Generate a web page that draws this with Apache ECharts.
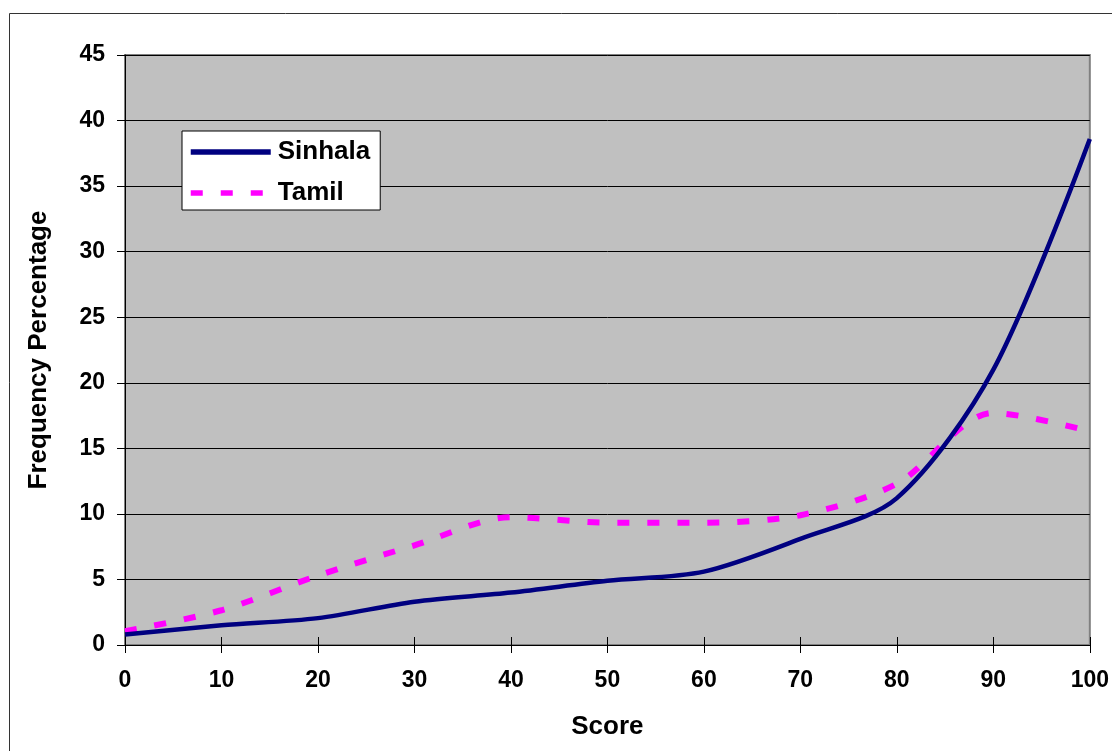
<!DOCTYPE html>
<html>
<head>
<meta charset="utf-8">
<script src="https://cdn.jsdelivr.net/npm/echarts@6/dist/echarts.min.js"></script>
<style>
  html, body { margin: 0; padding: 0; background: #fff; }
  #chart { width: 1112px; height: 751px; }
</style>
</head>
<body>
<div id="chart"></div>
<script>
// Score categories (x) and frequency percentages per language group
const scores = [0, 10, 20, 30, 40, 50, 60, 70, 80, 90, 100];
const sinhala = [0.8, 1.5, 2.05, 3.3, 4.0, 4.9, 5.6, 8.1, 11.2, 21.0, 38.6];
const tamil = [1.05, 2.65, 5.3, 7.6, 9.75, 9.33, 9.33, 9.9, 12.3, 17.7, 16.3];
const yTicks = [0, 5, 10, 15, 20, 25, 30, 35, 40, 45];

const FONT = '"Liberation Sans", Arial, sans-serif';
const tickFont = { fontFamily: FONT, fontWeight: 'bold', fontSize: 23, color: '#000' };
const titleFont = { fontFamily: FONT, fontWeight: 'bold', fontSize: 26, color: '#000' };

const chart = echarts.init(document.getElementById('chart'), null, { renderer: 'canvas' });

const pairs = (xs, ys) => xs.map((x, i) => [x, ys[i]]);

const baseX = {
  type: 'value',
  min: 0,
  max: 100,
  interval: 10,
  splitLine: { show: false },
};

chart.setOption({
  animation: false,
  backgroundColor: '#ffffff',
  graphic: [{
    type: 'rect',
    shape: { x: 9.5, y: 13.5, width: 1200, height: 800 },
    style: { fill: 'none', stroke: '#333333', lineWidth: 1 },
    silent: true,
    z: -10
  }],
  grid: {
    left: 125, right: 22, top: 55, bottom: 106,
    show: true,
    backgroundColor: '#C0C0C0',
    borderColor: '#808080',
    borderWidth: 2
  },
  legend: {
    left: 182, top: 131,
    orient: 'vertical',
    backgroundColor: '#ffffff',
    borderColor: '#000000',
    borderWidth: 1,
    padding: [6, 10, 2, 6],
    itemWidth: 80,
    itemHeight: 30,
    itemGap: 11,
    itemStyle: { color: 'transparent', borderWidth: 0 },
    lineStyle: { width: 5.5 },
    textStyle: Object.assign({}, titleFont, { lineHeight: 30, padding: [0, 0, 0, 2] }),
    data: ['Sinhala', 'Tamil']
  },
  xAxis: [
    Object.assign({}, baseX, {
      name: 'Score',
      nameLocation: 'middle',
      nameGap: 69,
      nameTextStyle: titleFont,
      axisLine: { show: true, lineStyle: { color: '#000', width: 1 } },
      axisTick: { show: true, inside: false, length: 8, lineStyle: { color: '#000' } },
      axisLabel: Object.assign({ margin: 24 }, tickFont)
    }),
    Object.assign({}, baseX, {
      position: 'bottom',
      axisLine: { show: false },
      axisTick: { show: true, inside: true, length: 8, lineStyle: { color: '#000' } },
      axisLabel: { show: false }
    })
  ],
  yAxis: {
    type: 'value',
    min: yTicks[0],
    max: yTicks[yTicks.length - 1],
    interval: 5,
    name: 'Frequency Percentage',
    nameLocation: 'middle',
    nameGap: 73,
    nameTextStyle: titleFont,
    axisLine: { show: true, lineStyle: { color: '#000', width: 1 } },
    axisTick: { show: true, length: 8, lineStyle: { color: '#000' } },
    axisLabel: Object.assign({ margin: 20 }, tickFont),
    splitLine: { show: true, lineStyle: { color: '#000', width: 1 } }
  },
  series: [
    {
      name: 'Sinhala',
      type: 'line',
      data: pairs(scores, sinhala),
      smooth: 0.3,
      symbol: 'none',
      lineStyle: { color: '#000080', width: 4.5 },
      itemStyle: { color: '#000080' },
      z: 3
    },
    {
      name: 'Tamil',
      type: 'line',
      data: pairs(scores, tamil),
      smooth: 0.3,
      symbol: 'none',
      lineStyle: { color: '#FF00FF', width: 6, type: [12, 18] },
      itemStyle: { color: '#FF00FF' },
      z: 2
    }
  ]
});
</script>
</body>
</html>
